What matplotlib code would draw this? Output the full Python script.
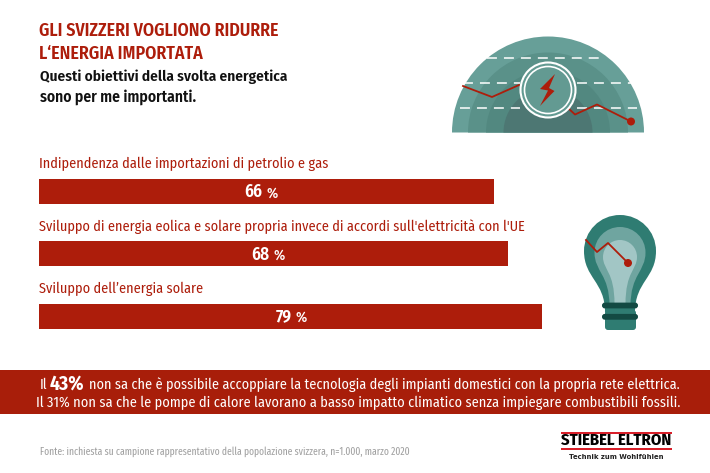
import matplotlib
matplotlib.use("Agg")
import matplotlib.pyplot as plt
from matplotlib.patches import Wedge, Circle, Polygon, PathPatch, FancyBboxPatch, Rectangle
from matplotlib.path import Path

W, H = 710, 473
RED = "#ad1d0b"
COND = ["Fira Sans Condensed", "Open Sans Condensed", "Roboto", "DejaVu Sans"]

categories = ["Indipendenza dalle importazioni di petrolio e gas",
              "Sviluppo di energia eolica e solare propria invece di accordi sull'elettricità con l'UE",
              "Sviluppo dell’energia solare"]
percent_labels = [66, 68, 79]
# drawn length in the same scale; the 79 % bar is shorter than its label in the original
bar_lengths = [66, 68, 73]
category_widths = [290, 485, 164]   # px in the reference, font gets fitted to these
label_shift = [-0.6, -0.6, 0.2]     # the labels are not quite centred on the bars

plt.rcParams["font.family"] = COND
fig = plt.figure(figsize=(W / 100, H / 100), dpi=100, facecolor="white")
fig.canvas.draw()
rend = fig.canvas.get_renderer()

def fit(t, width):
    # scale the font so the text takes the reference's width in px
    t.set_fontsize(t.get_fontsize() * width / t.get_window_extent(rend).width)
    return t

# pixel canvas for text, banner and icons
bg = fig.add_axes([0, 0, 1, 1])
bg.set_xlim(0, W); bg.set_ylim(H, 0); bg.axis("off")

# ---- bars ------------------------------------------------------------------
ax = fig.add_axes([39 / W, 1 - 347.2 / H, 689 / W, 186.8 / H])
ax.set_xlim(0, 100); ax.set_ylim(2.5, -0.5); ax.axis("off")
ax.patch.set_alpha(0)
ypos = range(len(categories))
ax.barh(ypos, bar_lengths, height=0.4, color=RED)
for y, cat, n, v, w, dx in zip(ypos, categories, bar_lengths, percent_labels, category_widths, label_shift):
    fit(ax.text(0, y - 0.44, cat, color=RED, fontsize=12, ha="left", va="center"), w)
    ax.text(n / 2 + dx, y + 0.01, f"{v}", color="white", fontsize=12.5, weight="semibold",
            ha="right", va="center")
    ax.text(n / 2 + dx + 0.6, y + 0.03, "%", color="white", fontsize=10.5, weight="medium",
            ha="left", va="center")

# ---- heading ---------------------------------------------------------------
fit(bg.text(39, 31, "GLI SVIZZERI VOGLIONO RIDURRE", color=RED, fontsize=13, weight="semibold", va="center"), 240)
fit(bg.text(39, 54, "L‘ENERGIA IMPORTATA", color=RED, fontsize=13, weight="semibold", va="center"), 164)
fit(bg.text(40, 77, "Questi obiettivi della svolta energetica", color="#111111", fontsize=13, weight="semibold", va="center"), 248)
fit(bg.text(40, 97, "sono per me importanti.", color="#111111", fontsize=13, weight="semibold", va="center"), 158)

# ---- gauge icon ------------------------------------------------------------
cx, cy = 548, 132.5
for r, c in ((96, "#679f98"), (80, "#5a9189"), (62, "#528880"), (44.5, "#4d7773")):
    # y axis is flipped, so the upper half is 180..360
    bg.add_patch(Wedge((cx, cy), r, 180, 360, color=c, lw=0))
for y, x0, x1 in ((58, 487, 604), (83, 463, 520), (83, 577, 632), (108, 460, 520), (108, 577, 637)):
    bg.plot([x0, x1], [y, y], color="white", lw=1.1, dashes=(6.5, 4.6), zorder=3)
bg.plot([463, 492, 519], [86, 97, 85], color=RED, lw=1.3, zorder=4)
bg.plot([568, 575, 597, 631], [108, 114.5, 104.5, 121.5], color=RED, lw=1.3, zorder=4)
bg.add_patch(Circle((631, 121.5), 4, color=RED, lw=0, zorder=5))
bg.add_patch(Circle((548, 90), 27.5, fc="#639a92", ec="white", lw=1.5, zorder=5))
bg.add_patch(Circle((548, 90), 23.5, fc="none", ec="white", lw=1.2, zorder=6))
bg.add_patch(Polygon([(555, 74), (540, 89), (548, 90.5), (540, 106), (551, 94.5),
                      (554.5, 91), (549, 88)], color=RED, lw=0, zorder=7))

# ---- bulb icon -------------------------------------------------------------
def bulb(cx, top, rx, neck, bottom):
    c = top + rx
    verts = [(cx, top),
             (cx + rx * .56, top), (cx + rx, c - rx * .55), (cx + rx, c),
             (cx + rx, c + rx * .75), (cx + neck, c + rx * .85), (cx + neck, bottom),
             (cx - neck, bottom),
             (cx - neck, c + rx * .85), (cx - rx, c + rx * .75), (cx - rx, c),
             (cx - rx, c - rx * .55), (cx - rx * .56, top), (cx, top), (cx, top)]
    codes = [Path.MOVETO] + [Path.CURVE4] * 6 + [Path.LINETO] + [Path.CURVE4] * 6 + [Path.CLOSEPOLY]
    return Path(verts, codes)

bg.add_patch(PathPatch(bulb(620, 215, 36, 15, 312), fc="#2f7c72", lw=0))
bg.add_patch(PathPatch(bulb(620, 227, 25.5, 10.5, 306), fc="#6fa5a0", lw=0))
bg.add_patch(PathPatch(bulb(620, 240, 17, 5.5, 304), fc="#a2c6c5", lw=0))
bg.add_patch(FancyBboxPatch((605, 310), 31, 20, boxstyle="round,pad=0,rounding_size=3", fc="#2f7c72", lw=0))
for y in (305.5, 316.8):
    bg.add_patch(FancyBboxPatch((602, y - 2.9), 36, 5.8, boxstyle="round,pad=0,rounding_size=2.8",
                                fc="#134a43", lw=0))
bg.plot([586, 597, 608, 628], [240, 252, 243, 263], color=RED, lw=1.3, zorder=4)
bg.add_patch(Circle((628, 263), 4, color=RED, lw=0, zorder=5))

# ---- banner ----------------------------------------------------------------
bg.add_patch(Rectangle((0, 369.5), W, 44.5, color="#a81e0a", lw=0))
t1 = bg.text(40, 385, "Il", color="white", fontsize=12.6, va="center")
t2 = bg.text(50, 384, "43%", color="white", fontsize=14, weight="bold", va="center")
t3 = fit(bg.text(89, 385, "non sa che è possibile accoppiare la tecnologia degli impianti domestici con la propria rete elettrica.",
                 color="white", fontsize=12.6, va="center"), 585)
fit(bg.text(36, 403, "Il 31% non sa che le pompe di calore lavorano a basso impatto climatico senza impiegare combustibili fossili.",
            color="white", fontsize=12.6, va="center"), 640)
t1.set_fontsize(t3.get_fontsize())

# ---- footer ----------------------------------------------------------------
fit(bg.text(40, 452, "Fonte: inchiesta su campione rappresentativo della popolazione svizzera, n=1.000, marzo 2020",
            color="#a0a0a0", fontsize=8.6, va="center",
            family=["Fira Sans Extra Condensed", "Fira Sans Condensed", "Roboto", "DejaVu Sans"]), 367)
bg.add_patch(Rectangle((561, 431.5), 111, 2, color="#d8202a", lw=0))
bg.add_patch(Rectangle((561, 447.5), 111, 2, color="#d8202a", lw=0))
fit(bg.text(561, 440.5, "STIEBEL ELTRON", color="black", fontsize=12.3, weight="bold", va="center"), 111)
fit(bg.text(569, 456.5, "Technik zum Wohlfühlen", color="#222222", fontsize=6.2, weight="bold",
            va="center", family="DejaVu Sans"), 95)

fig.savefig("out.png", dpi=100)
